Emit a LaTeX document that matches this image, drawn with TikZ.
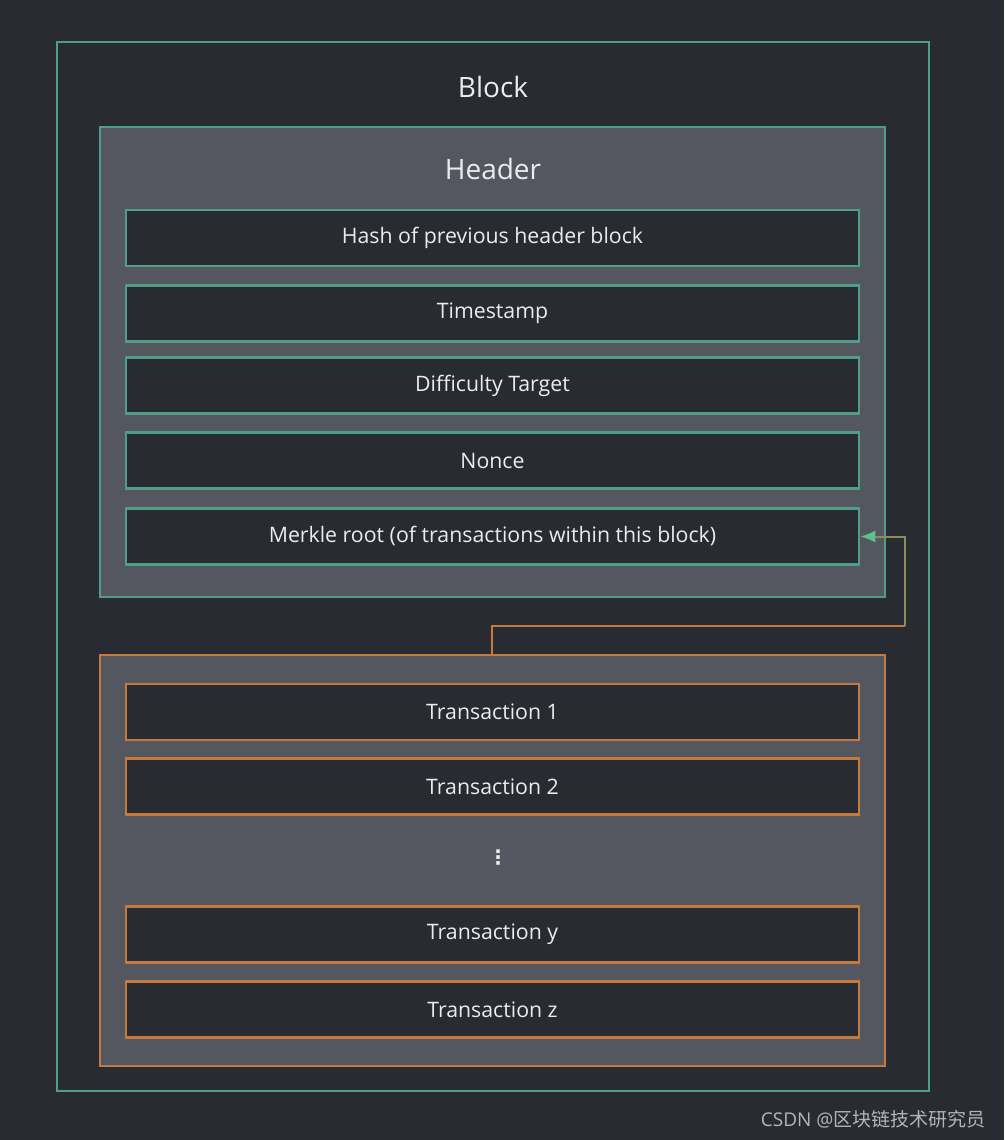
\documentclass[tikz,border=0pt]{standalone}
\usepackage{fontspec}
\setmainfont{Open Sans}
\newfontfamily\cjk{Noto Sans CJK SC}
\newfontfamily\dejavu{DejaVu Sans}
\usetikzlibrary{arrows.meta}
\definecolor{bg}{HTML}{292B33}
\definecolor{panel}{HTML}{545660}
\definecolor{grn}{HTML}{4F9F86}
\definecolor{brgrn}{HTML}{5EC08F}
\definecolor{org}{HTML}{C47A3E}
\definecolor{txt}{HTML}{ECECEC}
\definecolor{wm}{HTML}{B4B4B4}
\tikzset{
  frame/.style={draw=grn, line width=2.5pt},
  hpanel/.style={draw=grn, fill=panel, line width=2.5pt},
  tpanel/.style={draw=org, fill=panel, line width=2.5pt},
  hrow/.style={draw=grn, fill=bg, line width=2.5pt, minimum width=733pt, minimum height=56pt, inner sep=0pt, text=txt, font=\fontsize{21.3}{25}\selectfont},
  trow/.style={hrow, draw=org},
  title/.style={text=txt, font=\fontsize{28}{32}\selectfont},
  rowtext/.style={text=txt, font=\fontsize{21.3}{25}\selectfont},
}
\begin{document}
\begin{tikzpicture}[x=1pt,y=-1pt]
\fill[bg] (0,0) rectangle (1004,1140);
\useasboundingbox (0,0) rectangle (1004,1140);
\draw[frame] (57,42) rectangle (929,1091);
\node[title] (block) at (493,87) {Block};
\draw[hpanel] (100,127) rectangle (885,597);
\node[title] (header) at (493,169) {Header};
\node[hrow] (hash) at (492.5,238) {\raisebox{-2pt}{Hash of previous header block}};
\node[hrow] (time) at (492.5,313.5) {\raisebox{-2pt}{Timestamp}};
\node[hrow] (diff) at (492.5,385.5) {\raisebox{-2pt}{Difficulty Target}};
\node[hrow] (nonce) at (492.5,460.5) {\raisebox{-2pt}{Nonce}};
\node[hrow] (merkle) at (492.5,536.5) {\raisebox{-2pt}{Merkle root (of transactions within this block)}};
\draw[tpanel] (100,655) rectangle (885,1066);
\coordinate (tp) at (492,655);
\node[trow] (t1) at (492.5,712) {\raisebox{-2pt}{Transaction 1}};
\node[trow] (t2) at (492.5,786.5) {\raisebox{-2pt}{Transaction 2}};
\node[text=txt, font=\dejavu\bfseries\fontsize{20}{24}\selectfont, inner sep=0pt] (dots) at (498,858) {⋮};
\node[trow] (ty) at (492.5,934.5) {\raisebox{-2pt}{Transaction y}};
\node[trow] (tz) at (492.5,1009.5) {\raisebox{-2pt}{Transaction z}};
\coordinate (c1) at (905,626);
\draw[org, line width=2pt] (tp) |- (c1);
\draw[draw=grn!45!org, line width=2pt, -{Latex[length=15pt,width=12pt,color=brgrn]}] (c1) |- (merkle.east);
\node[text=wm, font=\fontsize{19}{22}\selectfont, anchor=east] (wmk) at (989,1119) {CSDN @{\cjk 区块链技术研究员}};
\end{tikzpicture}
\end{document}
